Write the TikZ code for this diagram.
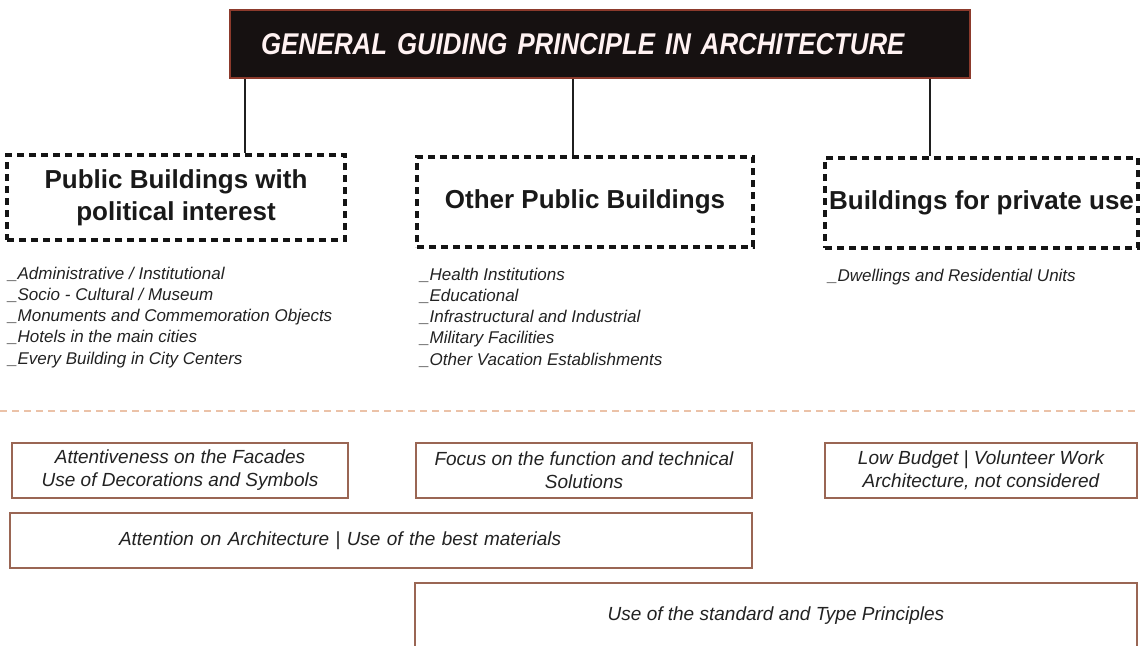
\documentclass[tikz,border=0pt]{standalone}
\usepackage{fontspec}
\setmainfont{Liberation Sans}
\newfontfamily\titlefont[FakeStretch=0.86]{Liberation Sans}
\definecolor{titlefill}{HTML}{161111}
\definecolor{titleedge}{HTML}{8C3A2C}
\definecolor{boxedge}{HTML}{9A6654}
\definecolor{sepcol}{HTML}{EBC2A8}
\definecolor{inktext}{HTML}{222222}

\begin{document}
\begin{tikzpicture}[x=1pt,y=-1pt,
  titlebox/.style={draw=titleedge,line width=2pt,fill=titlefill,text=white!95!red,minimum width=740,minimum height=68,
    inner xsep=31,text width=678,align=left,font=\titlefont\fontsize{30}{32}\selectfont\bfseries\itshape},
  grpbox/.style={draw=black!92,line width=3.6pt,dash pattern=on 7pt off 5pt,align=center,
    font=\fontsize{26}{32}\selectfont\bfseries,text=black!90},
  notebox/.style={draw=boxedge,line width=1.1pt,align=center,font=\fontsize{19}{23}\selectfont\itshape,text=inktext},
  item/.style={anchor=base west,inner sep=0,font=\fontsize{17}{20}\selectfont\itshape,text=inktext},
  link/.style={line width=2.3pt,draw=black!88}]
  \useasboundingbox (0,0) rectangle (1140,645);

  % heading and the three groups
  \node[titlebox] (title) at (600,44) {GENERAL GUIDING PRINCIPLE IN ARCHITECTURE};
  \node[grpbox,minimum width=338,minimum height=85] (pub) at (176,197.5) {Public Buildings with\\political interest};
  \node[grpbox,minimum width=336,minimum height=90] (oth) at (585,202) {Other Public Buildings};
  \node[grpbox,minimum width=313,minimum height=90,inner xsep=0] (prv) at (981.5,203) {Buildings for private use};
  \coordinate (pubtop) at ([xshift=69]pub.north);
  \coordinate (othtop) at ([xshift=-12]oth.north);
  \coordinate (prvtop) at ([xshift=-51.5]prv.north);
  \foreach \g in {pubtop,othtop,prvtop}{\draw[link] (\g |- title.south) -- (\g);}

  % building types
  \foreach \t [count=\i from 0] in {Administrative / Institutional,Socio - Cultural / Museum,
      Monuments and Commemoration Objects,Hotels in the main cities,Every Building in City Centers}
    {\node[item] (lpub\i) at (8,279+21.3*\i) {\_\t};}
  \foreach \t [count=\i from 0] in {Health Institutions,Educational,Infrastructural and Industrial,
      Military Facilities,Other Vacation Establishments}
    {\node[item] (loth\i) at (420,280+21.3*\i) {\_\t};}
  \node[item] (lprv0) at (828,281) {\_Dwellings and Residential Units};

  \draw[sepcol,line width=1.2pt,dash pattern=on 7pt off 5pt] (0,411) -- (1140,411);

  % design attitudes
  \node[notebox,minimum width=336,minimum height=55] (facade) at (180,470.5) {Attentiveness on the Facades\\Use of Decorations and Symbols};
  \node[notebox,minimum width=336,minimum height=55] (func) at (584,470.5) {Focus on the function and technical\\Solutions};
  \node[notebox,minimum width=312,minimum height=55] (budget) at (981,470.5) {Low Budget | Volunteer Work\\Architecture, not considered};
  \node[notebox,minimum width=742,minimum height=55,inner xsep=109,text width=524,align=left] (mater) at (381,540.5)
    {Attention on Architecture | Use of the best materials};
  \node[notebox,minimum width=722,minimum height=80,text height=14,text depth=20] (stand) at (776,623)
    {Use of the standard and Type Principles};
\end{tikzpicture}
\end{document}
